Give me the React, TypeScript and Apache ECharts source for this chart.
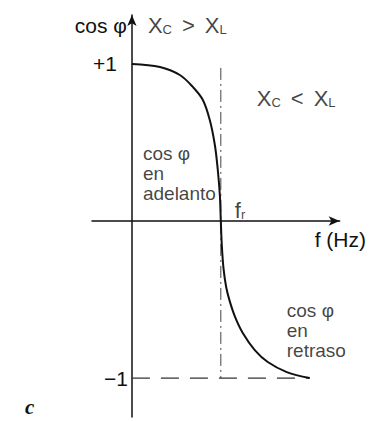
import React, { useEffect, useRef } from "react";
import * as echarts from "echarts";

// Curve cos φ vs f (f in units of f_r)
const curveF = [0, 0.315, 0.539, 0.685, 0.798, 0.876, 0.933, 0.966, 0.989, 1.0, 1.011, 1.03, 1.06, 1.1, 1.16, 1.247, 1.382, 1.528, 1.742, 2.0];
const curveCos = [1, 0.981, 0.93, 0.854, 0.771, 0.643, 0.484, 0.325, 0.166, 0, -0.153, -0.3, -0.42, -0.51, -0.61, -0.713, -0.822, -0.898, -0.962, -1.0];

const resonanceF = [1, 1];
const resonanceCos = [0.975, -1];
const minusOneF = [0, 2];
const minusOneCos = [-1, -1];

const yTickValues = [-1, 1];
const yTickLabels = ["−1", "+1"];

const FONT = '"Liberation Sans", Arial, sans-serif';

const annotations = [
  { f: 0.18, c: 1.248, text: "{x|X}{s|C}{g|>}{x|X}{s|L}" },
  { f: 1.404, c: 0.783, text: "{x|X}{s|C}{g|<}{x|X}{s|L}" },
  { f: 0.124, c: 0.3, text: "{t|cos φ}\n{t|en}\n{t|adelanto}" },
  { f: 1.157, c: 0.07, text: "{x|f}{s|r}" },
  { f: 1.742, c: -0.7, text: "{t|cos φ}\n{t|en}\n{t|retraso}" },
];

export default function App() {
  const ref = useRef<HTMLDivElement>(null);
  useEffect(() => {
    if (!ref.current) return;
    const chart = echarts.init(ref.current, null, { renderer: "svg" });
    const pairs = (xs: number[], ys: number[]) => xs.map((x, i) => [x, ys[i]]);
    chart.setOption({
      animation: false,
      backgroundColor: "#fff",
      grid: { left: 92, right: 29, top: 15, bottom: 4 },
      xAxis: {
        type: "value",
        min: -0.449,
        max: 2.337,
        name: "f (Hz)",
        nameLocation: "end",
        nameGap: -25,
        nameTextStyle: {
          fontFamily: FONT,
          fontSize: 21,
          color: "#111",
          align: "left",
          verticalAlign: "top",
          padding: [8, 0, 0, 0],
        },
        axisLine: {
          onZero: true,
          symbol: ["none", "arrow"],
          symbolSize: [7, 11],
          lineStyle: { color: "#111", width: 1.5 },
        },
        axisTick: { show: false },
        axisLabel: { show: false },
        splitLine: { show: false },
      },
      yAxis: {
        type: "value",
        min: -1.248,
        max: 1.312,
        name: "cos φ",
        nameLocation: "end",
        nameGap: -10,
        nameTextStyle: {
          fontFamily: FONT,
          fontSize: 21,
          color: "#111",
          align: "right",
          verticalAlign: "middle",
          padding: [0, 5, 0, 0],
        },
        axisLine: {
          onZero: true,
          symbol: ["none", "arrow"],
          symbolSize: [7, 11],
          lineStyle: { color: "#111", width: 1.5 },
        },
        axisTick: { show: false },
        splitLine: { show: false },
        axisLabel: {
          customValues: yTickValues,
          margin: -36,
          formatter: (v: number) => {
            const lbl = yTickLabels[yTickValues.indexOf(v)] ?? "";
            return v > 0 ? "{p|" + lbl + "}" : "{m|" + lbl + "}";
          },
          rich: {
            p: { fontFamily: FONT, fontSize: 21, color: "#111", padding: [0, 11, 0, 0] },
            m: { fontFamily: FONT, fontSize: 21, color: "#111" },
          },
        },
      },
      graphic: [
        {
          type: "text",
          left: 25,
          top: 396,
          style: { text: "c", font: 'italic bold 21px "Liberation Serif", serif', fill: "#111" },
        },
      ],
      series: [
        {
          type: "line",
          data: pairs(resonanceF, resonanceCos),
          showSymbol: false,
          lineStyle: { color: "#444", width: 1, type: [12, 4, 2, 4] },
          silent: true,
        },
        {
          type: "line",
          data: pairs(minusOneF, minusOneCos),
          showSymbol: false,
          lineStyle: { color: "#333", width: 1.2, type: [18, 11] },
          silent: true,
        },
        {
          type: "line",
          data: pairs(curveF, curveCos),
          smooth: 0.35,
          showSymbol: false,
          lineStyle: { color: "#111", width: 2 },
          z: 5,
        },
        {
          type: "scatter",
          symbolSize: 0,
          clip: false,
          data: annotations.map((a) => ({
            value: [a.f, a.c],
            label: {
              show: true,
              position: "right",
              distance: 0,
              formatter: a.text,
              rich: {
                x: { fontFamily: FONT, fontSize: 22, color: "#111", lineHeight: 22 },
                s: { fontFamily: FONT, fontSize: 13, color: "#111", lineHeight: 13, verticalAlign: "bottom" },
                g: { fontFamily: FONT, fontSize: 22, color: "#111", lineHeight: 22, padding: [0, 10, 0, 10] },
                t: { fontFamily: FONT, fontSize: 19, color: "#111", lineHeight: 20 },
              },
            },
          })),
        },
      ],
    });
    return () => chart.dispose();
  }, []);
  return (
    <div
      ref={ref}
      style={{ position: "absolute", left: 0, top: 0, width: 369, height: 421 }}
    />
  );
}
